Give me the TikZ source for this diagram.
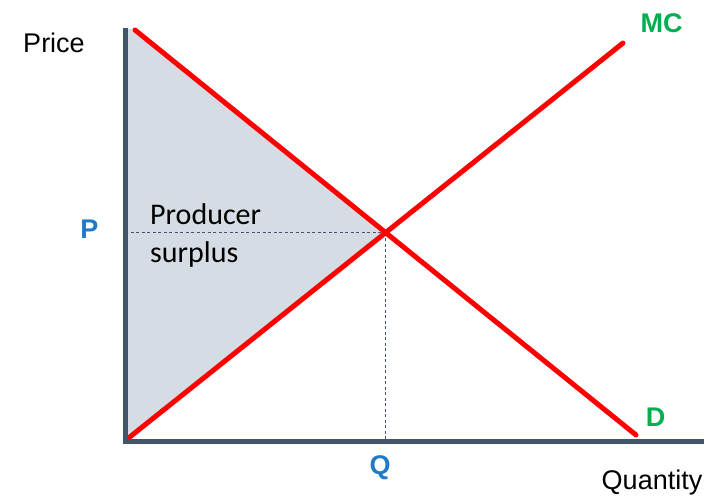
\documentclass[tikz,border=0pt]{standalone}
\usepackage{fontspec}
\setmainfont{Liberation Sans}
\newfontfamily\calib{Carlito}
\usetikzlibrary{calc}
\definecolor{axisc}{HTML}{44546A}
\definecolor{fillc}{HTML}{D6DCE4}
\definecolor{bluec}{HTML}{1F7BC9}
\definecolor{greenc}{HTML}{00B050}
\begin{document}
\begin{tikzpicture}[x=1pt,y=1pt,
  curve/.style={draw=red,line width=5pt,line cap=round},
  axisline/.style={draw=axisc,line width=5pt},
  guide/.style={draw=axisc,line width=1.2pt,dash pattern=on 3pt off 2.5pt},
  lbl/.style={inner sep=0pt,anchor=base,font=\fontsize{27}{30}\selectfont},
  blbl/.style={lbl,font=\fontsize{27}{30}\selectfont\bfseries,text=bluec},
  glbl/.style={lbl,font=\fontsize{27}{30}\selectfont\bfseries,text=greenc}]
\useasboundingbox (0,0) rectangle (709,496);
% key points (y measured from bottom)
\coordinate (O) at (125,55);
\coordinate (Ytop) at (125,468);
\coordinate (Xend) at (704,55);
\coordinate (Dtop) at (135,466);
\coordinate (Dbot) at (636,61);
\coordinate (MCbot) at (126,56);
\coordinate (MCtop) at (623,453);
\coordinate (E) at (intersection of Dtop--Dbot and MCbot--MCtop);
\coordinate (Pax) at (O |- E);
\coordinate (Qax) at (E |- O);
% shaded surplus
\fill[fillc] (Ytop) -- (Dtop) -- (E) -- (MCbot) -- (O) -- cycle;
% guides
\draw[guide] (Pax) -- (E);
\draw[guide] (E) -- (Qax);
% curves
\draw[curve] (Dtop) -- (Dbot);
\draw[curve] (MCbot) -- (MCtop);
% axes
\draw[axisline] (Ytop) -- (O) -- (Xend);
% labels
\node[lbl] (price) at (54,443) {Price};
\node[lbl] (qty) at (652,7) {Quantity};
\node[blbl] (plab) at (89.5,258) {P};
\node[blbl] (qlab) at (380,22) {Q};
\node[glbl] (mclab) at (661.5,463) {MC};
\node[glbl] (dlab) at (655.5,70) {D};
\node[inner sep=0pt,anchor=base west,font=\calib\fontsize{30}{37}\selectfont] (ps) at (150,271) {Producer};
\node[inner sep=0pt,anchor=base west,font=\calib\fontsize{30}{37}\selectfont] (ps2) at (150,234) {surplus};
\end{tikzpicture}
\end{document}
